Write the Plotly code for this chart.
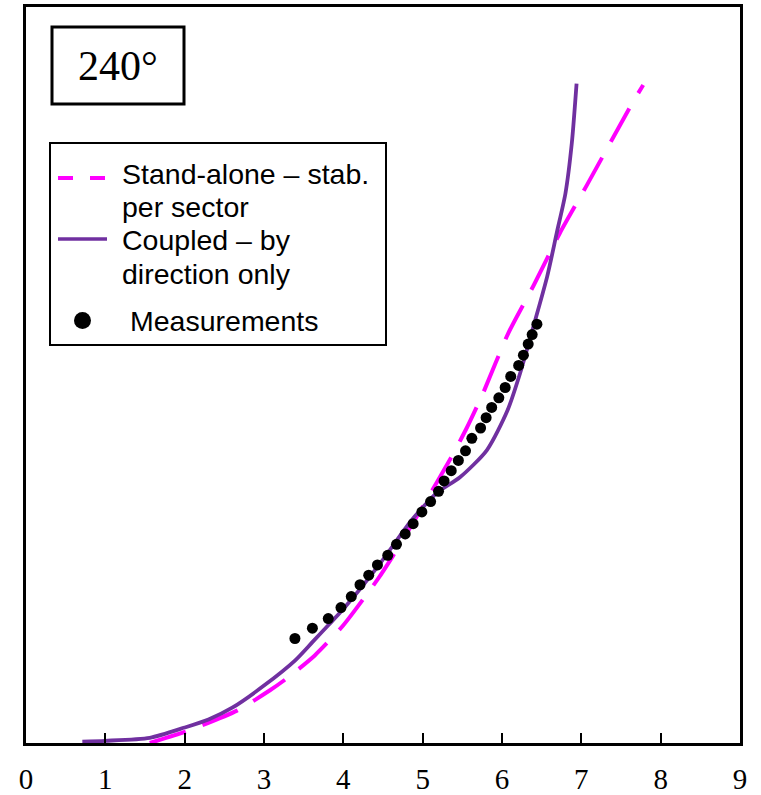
import plotly.graph_objects as go

# Wind speed axis (x) and normalised response (y) for the 240° sector
x_ticks = [0, 1, 2, 3, 4, 5, 6, 7, 8, 9]

standalone_x = [1.56, 2.0, 2.66, 3.08, 3.29, 3.64, 4.0, 4.43, 4.63, 5.0, 5.39, 5.56,
                5.76, 6.08, 6.40, 6.73, 7.07, 7.64, 7.78]
standalone_y = [0.0, 0.15, 0.44, 0.72, 0.88, 1.19, 1.6, 2.22, 2.55, 3.21, 3.94, 4.29,
                4.75, 5.57, 6.22, 6.93, 7.58, 8.69, 8.94]

coupled_x = [0.71, 1.0, 1.56, 2.0, 2.3, 2.6, 3.0, 3.39, 3.61, 3.81, 4.0, 4.45, 4.84, 5.0,
             5.18, 5.47, 5.81, 6.07, 6.23, 6.42, 6.57, 6.69, 6.80, 6.88, 6.94]
coupled_y = [0.02, 0.03, 0.07, 0.21, 0.32, 0.48, 0.78, 1.12, 1.37, 1.60, 1.82, 2.42, 3.0, 3.2,
             3.40, 3.61, 3.98, 4.52, 5.03, 5.75, 6.34, 6.93, 7.47, 8.15, 8.96]

meas_x = [3.39, 3.61, 3.81, 3.97, 4.10, 4.21, 4.32, 4.43, 4.56, 4.67, 4.78, 4.88, 4.99,
          5.10, 5.20, 5.27, 5.36, 5.45, 5.54, 5.62, 5.73, 5.80, 5.87, 5.96, 6.04, 6.11,
          6.21, 6.27, 6.33, 6.38, 6.44]
meas_y = [1.42, 1.56, 1.69, 1.84, 1.99, 2.15, 2.28, 2.42, 2.55, 2.70, 2.84, 2.98, 3.14,
          3.28, 3.42, 3.56, 3.70, 3.84, 3.97, 4.14, 4.28, 4.42, 4.56, 4.69, 4.83, 4.98,
          5.13, 5.27, 5.42, 5.55, 5.69]

legend_lines = ["Stand-alone \u2013 stab.", "per sector",
                "Coupled \u2013 by", "direction only",
                "Measurements"]
panel_label = "240\u00b0"

MAGENTA = "#FF00FF"
PURPLE = "#7030A0"

W, H = 761, 795
ML, MR, MT, MB = 26, 21, 7, 52
PW, PH = W - ML - MR, H - MT - MB


def px(x):
    return (x - ML) / PW


def py(y):
    return (H - MB - y) / PH


fig = go.Figure()
fig.add_trace(go.Scatter(x=standalone_x, y=standalone_y, mode="lines",
                         line=dict(color=MAGENTA, width=4, dash="38px,18px", shape="spline", smoothing=0.6),
                         showlegend=False))
fig.add_trace(go.Scatter(x=coupled_x, y=coupled_y, mode="lines",
                         line=dict(color=PURPLE, width=3.8, shape="spline", smoothing=0.7),
                         showlegend=False))
fig.add_trace(go.Scatter(x=meas_x, y=meas_y, mode="markers",
                         marker=dict(color="black", size=11),
                         showlegend=False))

shapes = [
    # panel label frame
    dict(type="rect", xref="paper", yref="paper", x0=px(52), x1=px(184), y0=py(104), y1=py(27),
         line=dict(color="black", width=3), fillcolor="white", layer="above"),
    # legend frame and samples
    dict(type="rect", xref="paper", yref="paper", x0=px(50), x1=px(386), y0=py(345), y1=py(143),
         line=dict(color="black", width=2), fillcolor="white", layer="above"),
    dict(type="line", xref="paper", yref="paper", x0=px(58), x1=px(107), y0=py(178), y1=py(178),
         line=dict(color=MAGENTA, width=4, dash="15px,17px"), layer="above"),
    dict(type="line", xref="paper", yref="paper", x0=px(58), x1=px(107), y0=py(239), y1=py(239),
         line=dict(color=PURPLE, width=3.5), layer="above"),
    dict(type="circle", xref="paper", yref="paper", x0=px(74), x1=px(91), y0=py(329), y1=py(312),
         line=dict(color="black", width=0), fillcolor="black", layer="above"),
]

sans = dict(family="Liberation Sans, Arial, sans-serif", size=28.5, color="black")
line_pos = [(122, 174), (122, 207), (122, 240), (122, 274), (130, 321)]
annotations = [
    dict(text=panel_label, xref="paper", yref="paper", x=px(118), y=py(66), showarrow=False,
         xanchor="center", yanchor="middle",
         font=dict(family="Liberation Serif, Times New Roman, serif", size=42, color="black")),
]
for label, (lx, ly) in zip(legend_lines, line_pos):
    annotations.append(dict(text=label, xref="paper", yref="paper", x=px(lx), y=py(ly),
                            showarrow=False, xanchor="left", yanchor="middle",
                            xshift=-2, font=sans))

fig.update_layout(
    width=W, height=H,
    margin=dict(l=ML, r=MR, t=MT, b=MB, autoexpand=False),
    paper_bgcolor="white", plot_bgcolor="white",
    shapes=shapes, annotations=annotations,
    xaxis=dict(range=[0, 9], tickvals=x_ticks, ticktext=[str(v) for v in x_ticks],
               ticks="inside", ticklen=10, tickwidth=1.5, tickcolor="black",
               showline=True, linewidth=3, linecolor="black", mirror=True,
               showgrid=False, zeroline=False, ticklabelstandoff=8, automargin=False,
               tickfont=dict(family="Liberation Serif, Times New Roman, serif", size=29, color="black")),
    yaxis=dict(range=[0, 10], showticklabels=False, ticks="", automargin=False,
               showline=True, linewidth=3, linecolor="black", mirror=True,
               showgrid=False, zeroline=False),
)

fig.write_html("out.html")
